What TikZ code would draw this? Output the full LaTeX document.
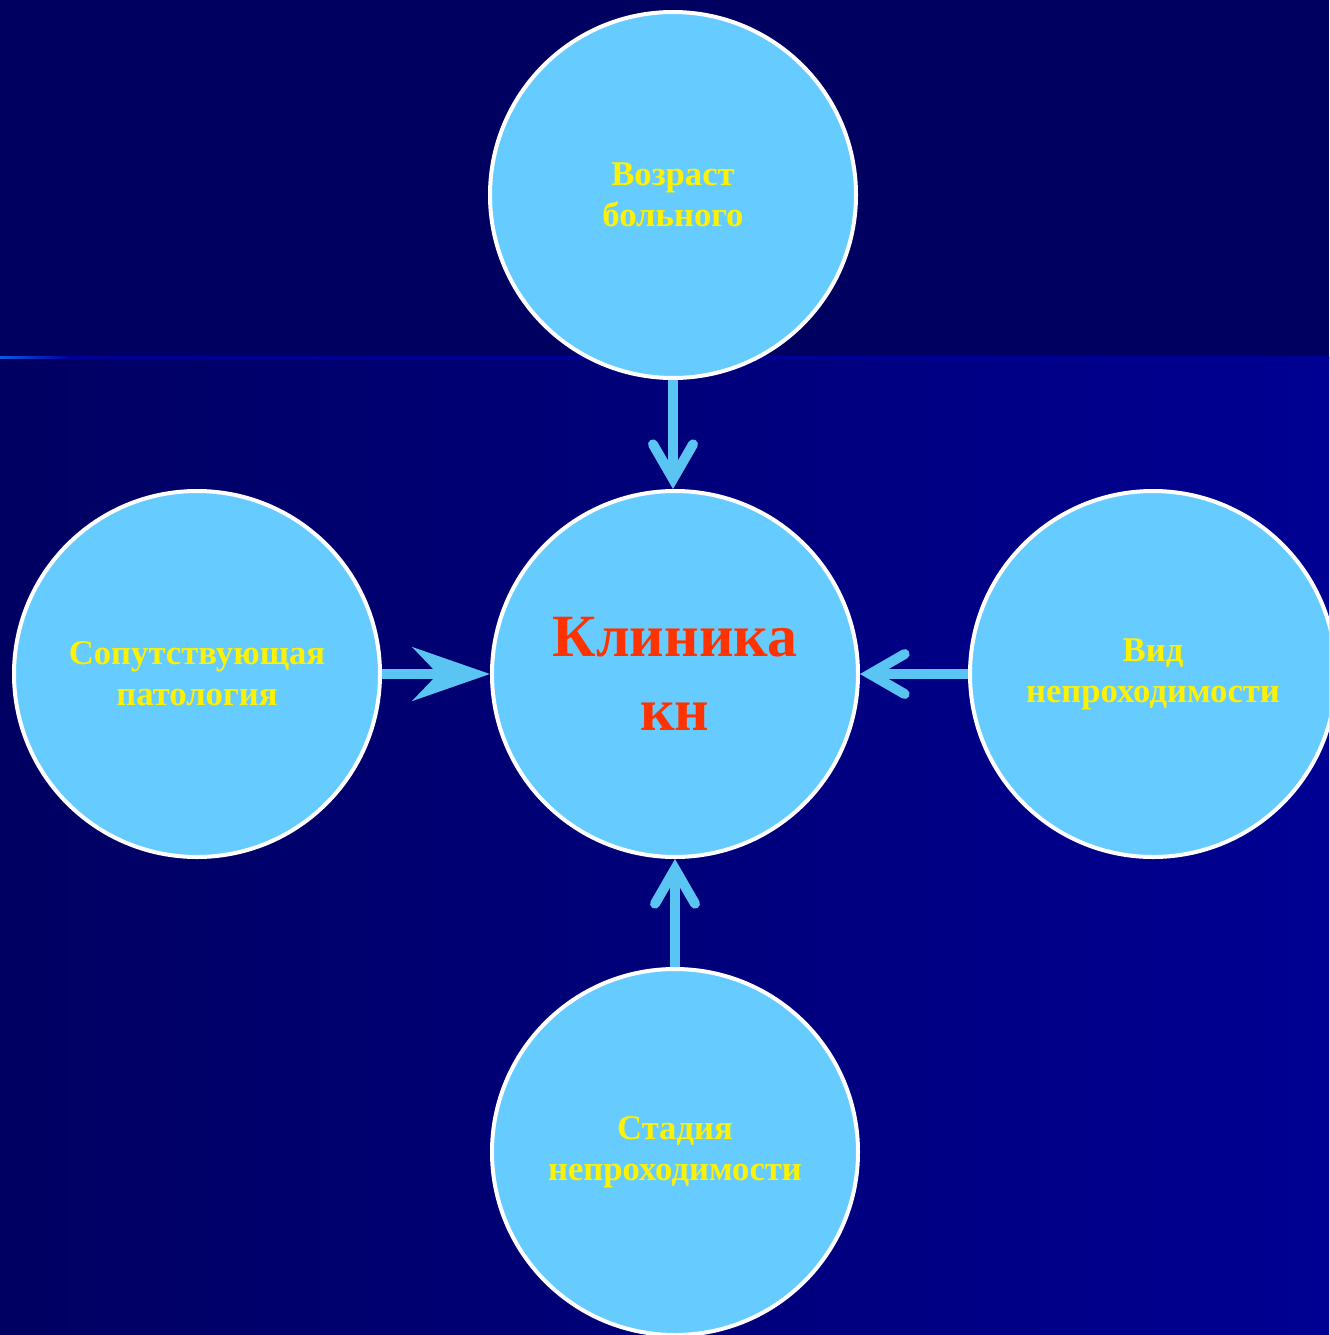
\documentclass[tikz,border=0pt]{standalone}
\usepackage{fontspec}
\setmainfont{Liberation Serif}
\usetikzlibrary{arrows.meta}

\definecolor{bandblue}{RGB}{0,0,96}
\definecolor{darkside}{RGB}{0,0,98}
\definecolor{brightside}{RGB}{0,0,146}
\definecolor{glowblue}{RGB}{10,90,230}
\definecolor{circlefill}{RGB}{102,204,255}
\definecolor{arrowblue}{RGB}{90,196,242}
\definecolor{labelred}{RGB}{255,51,0}

\begin{document}
\begin{tikzpicture}[x=0.75pt, y=-0.75pt,
factor/.style={circle, draw=white, line width=3pt, fill=circlefill,
  minimum size=274.5pt, inner sep=0pt, align=center, text=yellow,
  font=\bfseries\fontsize{26}{31}\selectfont},
link/.style={arrowblue, line width=7.5pt},
barb/.style={link, -{Straight Barb[length=26pt, width=30pt, line cap=round]}},
dart/.style={link, -{Stealth[length=58pt, width=40pt, inset=19pt]}}]

\def\W{1329}
\def\H{1335}
\def\bandY{357}

\useasboundingbox (0,0) rectangle (\W,\H);
\clip (0,0) rectangle (\W,\H);

% BACKGROUND
\fill[bandblue] (0,0) rectangle (\W,\bandY);
\shade[left color=darkside, right color=brightside] (0,\bandY) rectangle (\W,\H);
\shade[left color=glowblue, right color=blue!60!black] (0,\bandY-1) rectangle (70,\bandY+1);
\shade[left color=blue!60!black, right color=brightside] (70,\bandY-1) rectangle (\W,\bandY+1);

% circles
\node[factor] (age) at (673,195) {Возраст\\больного};
\node[factor, text=labelred, font=\bfseries\fontsize{45}{56}\selectfont] (clinic) at (675,674) {Клиника\\кн};
\node[factor] (comorb) at (197,674) {Сопутствующая\\патология};
\node[factor] (kind) at (1153,674) {Вид\\непроходимости};
\node[factor] (stage) at (675,1152) {Стадия\\непроходимости};

% arrows
\draw[barb] (age.south) -- (age.south |- clinic.north);
\draw[dart] (comorb.east) -- (clinic.west);
\draw[barb] (kind.west) -- (clinic.east);
\draw[barb] (stage.north) -- (clinic.south);

\end{tikzpicture}
\end{document}
